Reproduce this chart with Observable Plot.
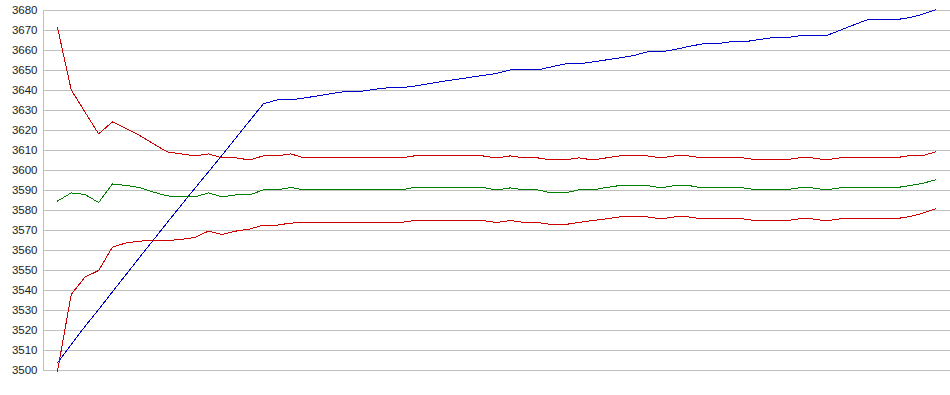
<!DOCTYPE html>
<html>
<head>
<meta charset="utf-8">
<script src="https://cdn.jsdelivr.net/npm/d3@7"></script>
<script src="https://cdn.jsdelivr.net/npm/@observablehq/plot@0.6"></script>
<style>
  html, body { margin: 0; padding: 0; background: #fff; overflow: hidden; }
  #chart svg { display: block; }
</style>
</head>
<body>
<div id="chart"></div>
<script>
// ---- data ----
const blue = [
  3503.8, 3513, 3522, 3530.5, 3539.3, 3548, 3556.7, 3565.3, 3574, 3582.5,
  3591, 3599.3, 3607.7, 3616.3, 3624.8, 3633.3, 3635.3, 3635.3, 3636.3, 3637.3,
  3638.5, 3639.5, 3639.5, 3640.5, 3641.3, 3641.3, 3642.2, 3643.3, 3644.5, 3645.5,
  3646.5, 3647.5, 3648.5, 3650.3, 3650.3, 3650.3, 3651.8, 3653.3, 3653.3, 3654.3,
  3655.3, 3656.3, 3657.5, 3659.3, 3659.3, 3660.5, 3662, 3663.3, 3663.3, 3664.3,
  3664.3, 3665.3, 3666.3, 3666.3, 3667.3, 3667.3, 3667.3, 3670, 3672.7, 3675.3,
  3675.3, 3675.3, 3676.3, 3678, 3680.3
];
const upperRed = [
  3671.5, 3640.3, 3629.3, 3618.3, 3624.3, 3621, 3617.5, 3613.3, 3609.3, 3608.3,
  3607.3, 3608.3, 3606.3, 3606.3, 3605.3, 3607.3, 3607.3, 3608.3, 3606.3, 3606.3,
  3606.3, 3606.3, 3606.3, 3606.3, 3606.3, 3606.3, 3607.3, 3607.3, 3607.3, 3607.3,
  3607.3, 3607.3, 3606.3, 3607.3, 3606.3, 3606.3, 3605.3, 3605.3, 3606.3, 3605.3,
  3606.3, 3607.3, 3607.3, 3607.3, 3606.3, 3607.3, 3607.3, 3606.3, 3606.3, 3606.3,
  3606.3, 3605.3, 3605.3, 3605.3, 3606.3, 3606.3, 3605.3, 3606.3, 3606.3, 3606.3,
  3606.3, 3606.3, 3607.3, 3607.3, 3609.3
];
const green = [
  3584.7, 3588.8, 3588, 3584, 3593.3, 3592.5, 3591.5, 3589.2, 3587.3, 3586.8,
  3586.8, 3588.8, 3586.8, 3587.8, 3587.8, 3590.3, 3590.3, 3591.5, 3590.3, 3590.3,
  3590.3, 3590.3, 3590.3, 3590.3, 3590.3, 3590.3, 3591.5, 3591.5, 3591.5, 3591.5,
  3591.5, 3591.5, 3590.3, 3591.3, 3590.3, 3590.3, 3588.8, 3588.8, 3590.3, 3590.3,
  3591.5, 3592.5, 3592.5, 3592.5, 3591.3, 3592.5, 3592.5, 3591.3, 3591.3, 3591.3,
  3591.3, 3590.3, 3590.3, 3590.3, 3591.3, 3591.3, 3590.3, 3591.3, 3591.3, 3591.3,
  3591.3, 3591.3, 3592.3, 3593.5, 3595.3
];
const lowerRed = [
  3499.7, 3538, 3546.7, 3550, 3561.7, 3563.8, 3564.7, 3565, 3565, 3565.5,
  3566.5, 3569.7, 3568, 3569.7, 3570.7, 3572.7, 3572.7, 3573.7, 3574, 3574,
  3574, 3574, 3574, 3574, 3574, 3574, 3575, 3575, 3575, 3575,
  3575, 3575, 3574, 3575, 3574, 3574, 3573, 3573, 3574, 3575,
  3575.8, 3576.8, 3576.8, 3576.8, 3575.8, 3576.8, 3576.8, 3575.8, 3575.8, 3575.8,
  3575.8, 3574.8, 3574.8, 3574.8, 3575.8, 3575.8, 3574.8, 3575.8, 3575.8, 3575.8,
  3575.8, 3575.8, 3576.8, 3578.5, 3580.8
];
const yTicks = d3.range(3500, 3681, 10);
const seriesNames = ["blue", "upperRed", "green", "lowerRed"];
const seriesColors = ["#0000cc", "#cc0000", "#008000", "#cc0000"];

// ---- build table ----
const seriesValues = [blue, upperRed, green, lowerRed];
const rows = [];
seriesValues.forEach((vals, s) => vals.forEach((v, i) => rows.push({i, v, s: seriesNames[s]})));

const n = blue.length;
const xMin = -1.02, xMax = (n - 1) + 1.09;

const chart = Plot.plot({
  width: 950,
  height: 395,
  marginLeft: 43,
  marginRight: 0,
  marginTop: 10,
  marginBottom: 25,
  style: {fontFamily: "'Liberation Sans', Arial, sans-serif", fontSize: "11.5px", color: "#222", background: "#fff"},
  x: {domain: [xMin, xMax], axis: null},
  y: {domain: [3500, 3680]},
  color: {domain: seriesNames, range: seriesColors},
  marks: [
    Plot.gridY(yTicks, {stroke: "#c0c0c0", strokeOpacity: 1, strokeWidth: 1}),
    Plot.ruleX([xMin], {stroke: "#c0c0c0", strokeWidth: 1}),
    Plot.axisY(yTicks, {tickSize: 0, tickPadding: 6, label: null, tickFormat: d => String(d), fill: "#222"}),
    Plot.line(rows, {x: "i", y: "v", z: "s", stroke: "s", strokeWidth: 1, curve: "linear"})
  ]
});
chart.querySelectorAll("path").forEach(p => p.setAttribute("shape-rendering", "crispEdges"));
document.getElementById("chart").appendChild(chart);
</script>
</body>
</html>
